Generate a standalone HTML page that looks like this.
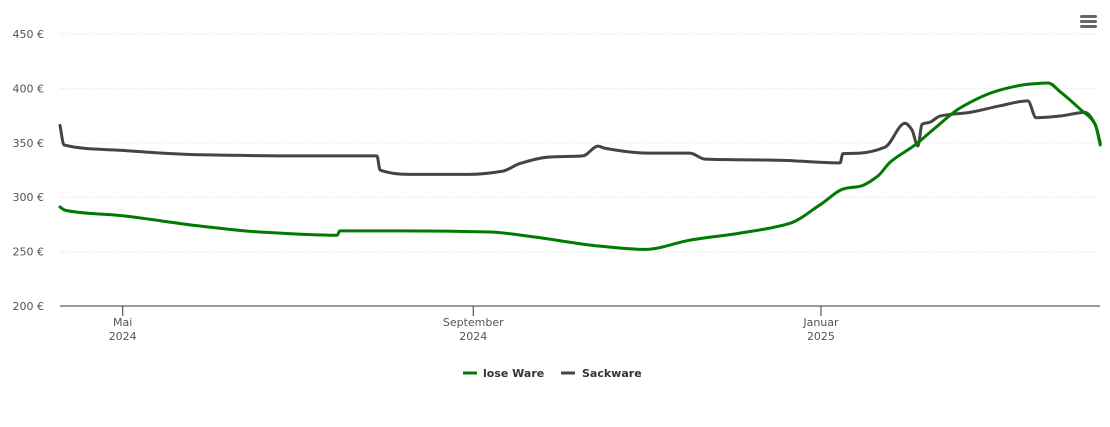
<!DOCTYPE html>
<html><head><meta charset="utf-8"><style>
body{margin:0;background:#fff;font-family:"DejaVu Sans",sans-serif}
svg text{font-family:"DejaVu Sans","Liberation Sans",sans-serif}
</style></head><body>
<svg id="chart" width="1110" height="423" xmlns="http://www.w3.org/2000/svg">
<g id="grid"></g><g id="axes"></g><g id="series"></g>
<g fill="#666">
<rect x="1080" y="15" width="17" height="3" rx="1.5"/><rect x="1080" y="20" width="17" height="3" rx="1.5"/><rect x="1080" y="25" width="17" height="3" rx="1.5"/>
</g>
<g>
<g>
<line x1="463" y1="373" x2="477" y2="373" stroke="#007a00" stroke-width="3"/>
<text x="483" y="377" font-size="11" font-weight="bold" fill="#333">lose Ware</text></g>
<g>
<line x1="561" y1="373" x2="575" y2="373" stroke="#444" stroke-width="3"/>
<text x="582" y="377" font-size="11" font-weight="bold" fill="#333">Sackware</text></g>
</g>
</svg>
<script>
const yTicks=[200,250,300,350,400,450];
const xTickDays=[22,145,267];
const xTickLabels=[["Mai","2024"],["September","2024"],["Januar","2025"]];
const looseDays=[0,1.8,21.8,49.1,70.2,97.2,98.2,119.3,150.9,164.9,189.5,205.3,221,238.6,256.1,266.7,275.4,280.7,287,291.2,300,307,315.8,329.8,340.4,346.7,350.9,357.9,363.2,365];
const looseVals=[291,288,283,273.5,268,265,269,269,268,264,255,252,260.5,267,276,293,308,310,319.5,332,348,363.5,382,398.5,404,405,397,381,367,348];
const sackDays=[0,1.4,21.8,49.1,84.2,111.2,112.3,122.5,143.5,155.4,161.4,171.9,183.5,188.8,191.2,207,221,226.3,252.6,273.7,274.7,280.7,289.5,296.5,298.9,301,302.5,305.3,308.8,319.3,329.8,339.6,342.5,350.9,359.6,363.2,365];
const sackVals=[366,348,343,339,338,338,325,321,321,324,331,337,338,347,345,340.5,340.5,335,334,331.5,340,340.5,346,368,362,347,367,369,374.6,378,384,388.5,373,374.6,378,367,350];
const X=d=>60+d*2.85, Y=v=>306-(v-200)*1.088;
const NS="http://www.w3.org/2000/svg";
function mk(tag,attrs,parent,txt){const e=document.createElementNS(NS,tag);for(const k in attrs)e.setAttribute(k,attrs[k]);if(txt!==undefined)e.textContent=txt;parent.appendChild(e);return e;}
const grid=document.getElementById('grid'),axes=document.getElementById('axes'),series=document.getElementById('series');
yTicks.forEach(v=>{
 if(v>200){const l=mk('line',{x1:60,x2:1100,y1:Y(v),y2:Y(v),stroke:'#ddd','stroke-dasharray':'1,2','stroke-width':1},grid);
 
 }
 const t=mk('text',{x:44,y:Y(v)+4,'text-anchor':'end','font-size':11,fill:'#555'},axes,v+' €');
 
 
});
const ax=mk('line',{x1:60,x2:1100,y1:306,y2:306,stroke:'#333','stroke-width':1},axes);


xTickDays.forEach((d,i)=>{
 const tk=mk('line',{x1:X(d),x2:X(d),y1:306,y2:316,stroke:'#333'},axes);
 
 
 const t=mk('text',{x:X(d),y:326,'text-anchor':'middle','font-size':11,fill:'#555'},axes);
 
 
 mk('tspan',{x:X(d),dy:0},t,xTickLabels[i][0]);
 mk('tspan',{x:X(d),dy:14},t,xTickLabels[i][1]);
});
function smoothPath(pts){
 // monotone cubic (Fritsch-Carlson)
 const n=pts.length,dx=[],m=[],s=[];
 for(let i=0;i<n-1;i++){dx[i]=pts[i+1][0]-pts[i][0];s[i]=(pts[i+1][1]-pts[i][1])/dx[i];}
 m[0]=s[0];m[n-1]=s[n-2];
 for(let i=1;i<n-1;i++){m[i]=(s[i-1]*s[i]<=0)?0:3*(dx[i-1]+dx[i])/((2*dx[i]+dx[i-1])/s[i-1]+(dx[i]+2*dx[i-1])/s[i]);}
 let d='M'+pts[0][0]+','+pts[0][1];
 for(let i=0;i<n-1;i++){const h=dx[i]/3;
  d+=' C'+(pts[i][0]+h)+','+(pts[i][1]+m[i]*h)+' '+(pts[i+1][0]-h)+','+(pts[i+1][1]-m[i+1]*h)+' '+pts[i+1][0]+','+pts[i+1][1];}
 return d;
}
function line(days,vals,color,name){
 const pts=days.map((d,i)=>[X(d),Y(vals[i])]);
 const p=mk('path',{d:smoothPath(pts),fill:'none',stroke:color,'stroke-width':3,'stroke-linejoin':'round','stroke-linecap':'round'},series);
 
 
}
line(sackDays,sackVals,'#444','series-sackware');
line(looseDays,looseVals,'#007a00','series-lose-ware');
</script>
</body></html>
